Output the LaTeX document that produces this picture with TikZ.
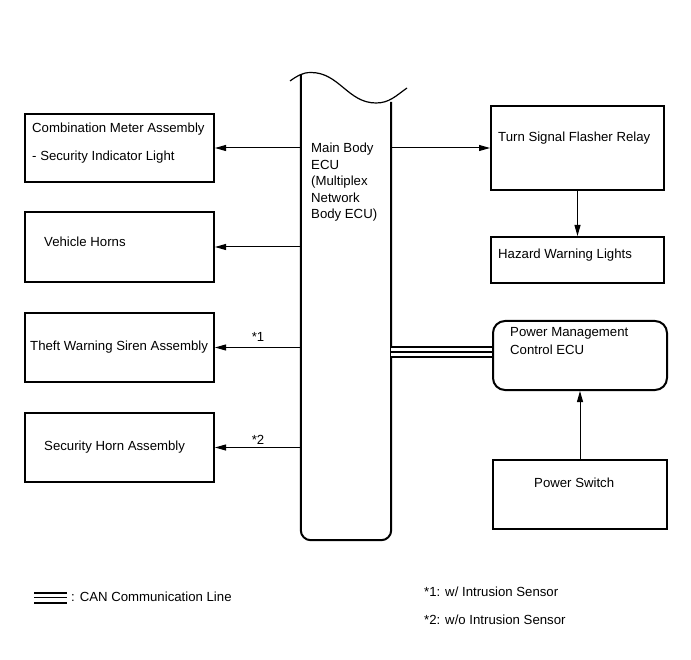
\documentclass[tikz,border=0pt]{standalone}
\usepackage{fontspec}
\setmainfont{Liberation Sans}
\usetikzlibrary{arrows.meta,positioning}

\begin{document}
\begin{tikzpicture}[x=1pt,y=-1pt]
\tikzset{
  blockbox/.style={draw=black,line width=2pt,inner sep=0pt},
  roundbox/.style={blockbox,rounded corners=12pt},
  boxtext/.style={font=\fontsize{13.2}{16.5}\selectfont,inner sep=0pt,anchor=west,align=left},
  ecuside/.style={draw=black,line width=2pt,line join=round,rounded corners=10pt},
  ecutop/.style={draw=black,line width=1.2pt},
  signal/.style={draw=black,line width=1pt,-{Triangle[length=11pt,width=6pt]}},
  canline/.style={draw=black,line width=2pt,double=white,double distance=8pt},
  canmid/.style={draw=black,line width=1.1pt}
}
\useasboundingbox (0,0) rectangle (691,660);
% ECU
\node[minimum width=90pt,minimum height=465pt,inner sep=0pt] (ecu) at (346,307.5) {};
\draw[ecuside] (ecu.west |- 0,75) -- (ecu.south west) -- (ecu.south east) -- (ecu.east |- 0,102);
\draw[ecutop] (290,81) to[out=35,in=180] (311,72.5) to[out=0,in=180] (376,103) to[out=0,in=215] (407,88);
\node[boxtext,anchor=north west] (ecu_t) at (311,143) {Main Body\\ECU\\(Multiplex\\Network\\Body ECU)};
% left boxes
\node[blockbox,minimum width=189pt,minimum height=68pt] (cm) at (119.5,148) {};
\node[blockbox,minimum width=189pt,minimum height=70pt] (vh) at (119.5,247) {};
\node[blockbox,minimum width=189pt,minimum height=69pt] (tw) at (119.5,347.5) {};
\node[blockbox,minimum width=189pt,minimum height=69pt] (sh) at (119.5,447.5) {};
\node[boxtext] (cm_t) at (32,143) {Combination Meter Assembly\\[11.5pt]- Security Indicator Light};
\node[boxtext] (vh_t) at (44,242) {Vehicle Horns};
\node[boxtext] (tw_t) at (30,347) {Theft Warning Siren Assembly};
\node[boxtext] (sh_t) at (44,447) {Security Horn Assembly};
% right boxes
\node[blockbox,minimum width=173pt,minimum height=84pt] (ts) at (577.5,148) {};
\node[blockbox,minimum width=173pt,minimum height=46pt] (hz) at (577.5,260) {};
\node[roundbox,minimum width=174pt,minimum height=69pt] (pm) at (580,355.5) {};
\node[blockbox,minimum width=174pt,minimum height=69pt] (ps) at (580,494.5) {};
\node[boxtext] (ts_t) at (498,138) {Turn Signal Flasher Relay};
\node[boxtext] (hz_t) at (498,255) {Hazard Warning Lights};
\node[boxtext] (pm_t) at (510,341) {Power Management\\[1.5pt]Control ECU};
\node[boxtext] (ps_t) at (534,483) {Power Switch};
% connectors
\draw[signal] (ecu.west |- cm.east) -- (cm.east);
\draw[signal] (ecu.west |- vh.east) -- (vh.east);
\draw[signal] (ecu.west |- tw.east) -- (tw.east);
\draw[signal] (ecu.west |- sh.east) -- (sh.east);
\draw[signal] (ecu.east |- ts.west) -- (ts.west);
\draw[signal] (ts.south) -- (hz.north);
\draw[signal] (ps.north) -- (pm.south);
\draw[canline] (ecu.east |- 0,352) -- ([yshift=3.5pt]pm.west);
\draw[canmid] (ecu.east |- 0,352) -- ([yshift=3.5pt]pm.west);
\node[boxtext,anchor=center] (tw_n) at (258,337) {*1};
\node[boxtext,anchor=center] (sh_n) at (258,440) {*2};
% legend
\coordinate (can_a) at (34,597.5);
\coordinate (can_b) at (67,597.5);
\draw[canline] (can_a) -- (can_b);
\draw[canmid] (can_a) -- (can_b);
\node[boxtext] (can_t) at (71,597) {: CAN Communication Line};
\node[boxtext] (note_1) at (424,592) {*1: w/ Intrusion Sensor};
\node[boxtext] (note_2) at (424,620) {*2: w/o Intrusion Sensor};
\end{tikzpicture}
\end{document}
